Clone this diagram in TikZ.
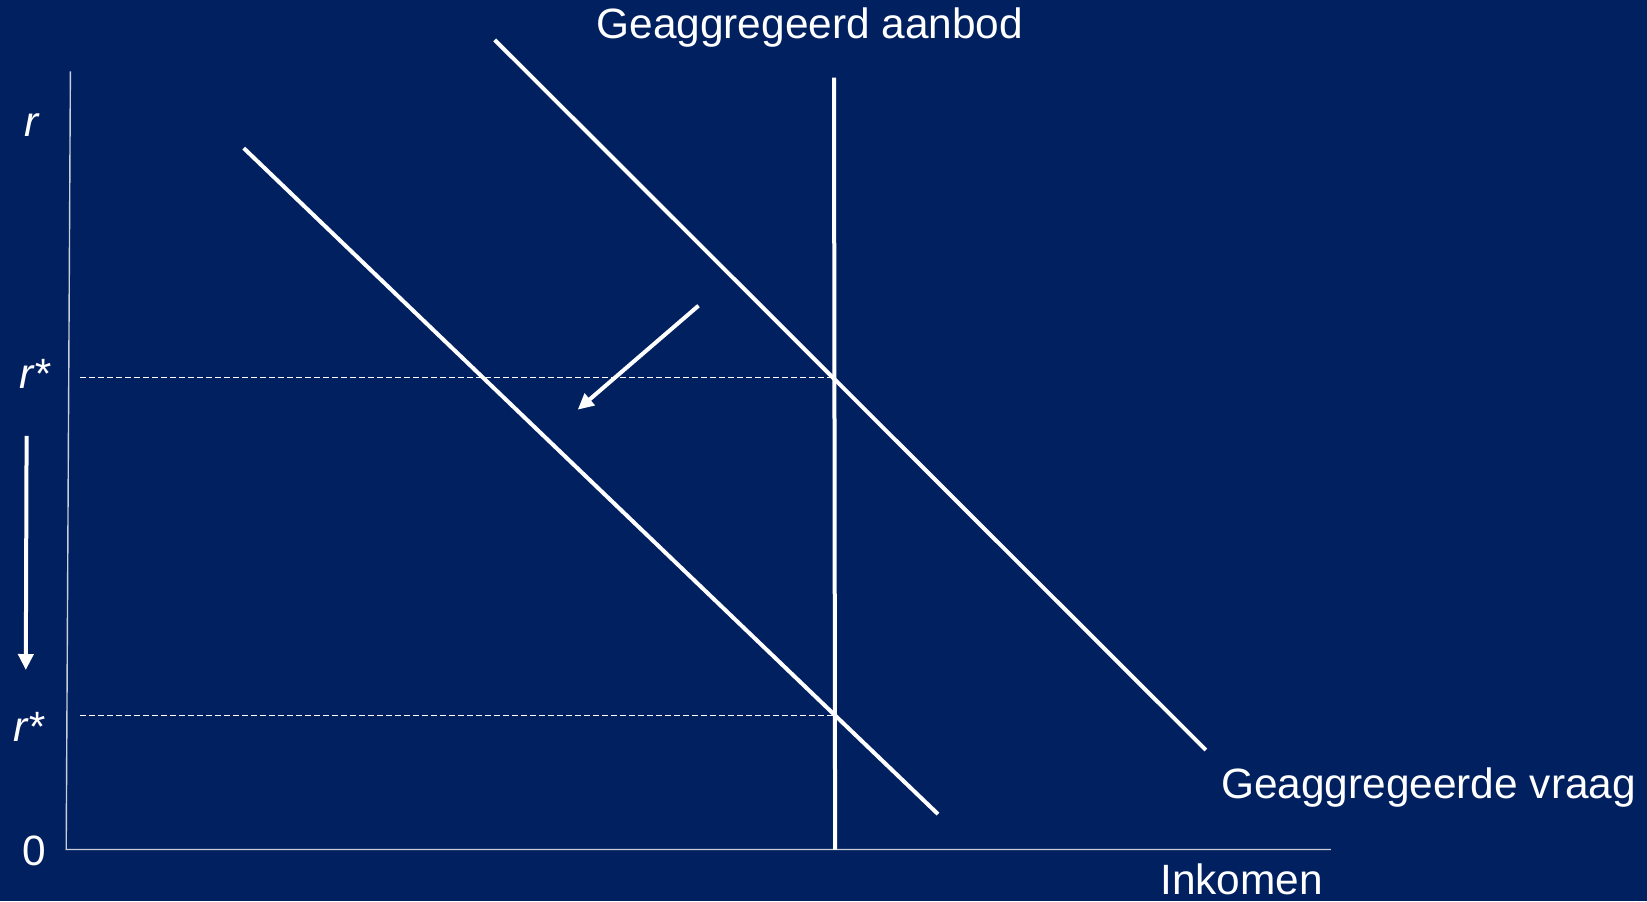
\documentclass[tikz,border=0pt]{standalone}
\usepackage{fontspec}
\setmainfont{Liberation Sans}
\usetikzlibrary{arrows.meta}
\definecolor{navy}{RGB}{0,32,96}
\definecolor{axisgray}{RGB}{200,205,215}
\tikzset{
  lbl/.style={text=white, inner sep=0pt, font=\fontsize{21.2pt}{25pt}\selectfont},
  ilbl/.style={lbl, font=\fontsize{21.2pt}{25pt}\selectfont\itshape},
  curve/.style={draw=white, line width=2pt},
  axisline/.style={draw=axisgray, line width=0.7pt},
  guide/.style={draw=white, line width=0.5pt, dash pattern=on 3pt off 1.5pt},
  shiftarrow/.style={draw=white, line width=2pt, -{Triangle[width=7.5pt,length=8pt]}}
}
\begin{document}
\begin{tikzpicture}[x=0.5pt,y=-0.5pt]
\fill[navy] (0,0) rectangle (1647,901);
\useasboundingbox (0,0) rectangle (1647,901);
% axes
\coordinate (ytop) at (70.4,71.4);
\coordinate (origin) at (66.2,849.5);
\coordinate (xend) at (1330.9,849.5);
\draw[axisline] (ytop) -- (origin) -- (xend);
% aggregate supply
\coordinate (astop) at (834.0,77.7);
\coordinate (asbot) at (835.1,849.5);
\draw[curve] (astop) -- (asbot);
% aggregate demand curves
\coordinate (ad1a) at (494.7,39.9);
\coordinate (ad1b) at (1205.9,750.0);
\draw[curve] (ad1a) -- (ad1b);
\coordinate (ad2a) at (243.7,148.1);
\coordinate (ad2b) at (938.0,814.1);
\draw[curve] (ad2a) -- (ad2b);
% dashed guides
\coordinate (g1a) at (79.8,377.6);
\coordinate (g1b) at (834.2,377.6);
\coordinate (g2a) at (79.8,715.3);
\coordinate (g2b) at (834.9,715.3);
\draw[guide] (g1a) -- (g1b);
\draw[guide] (g2a) -- (g2b);
% shift arrows
\coordinate (sa1) at (698.5,305.7);
\coordinate (sa2) at (577.7,409.7);
\draw[shiftarrow] (sa1) -- (sa2);
\coordinate (da1) at (26.6,435.9);
\coordinate (da2) at (25.8,670.0);
\draw[shiftarrow] (da1) -- (da2);
% labels
\node[lbl] (title) at (809.9,27.5) {Geaggregeerd aanbod};
\node[lbl] (advraag) at (1428.5,787.8) {Geaggregeerde vraag};
\node[lbl] (inkomen) at (1241.6,879.2) {Inkomen};
\node[lbl] (zero) at (34.7,850.8) {0};
\node[ilbl] (rlab) at (31.5,125.0) {r};
\node[ilbl] (rstar1) at (34.7,374.0) {r*};
\node[ilbl] (rstar2) at (28.4,726.9) {r*};
\end{tikzpicture}
\end{document}
